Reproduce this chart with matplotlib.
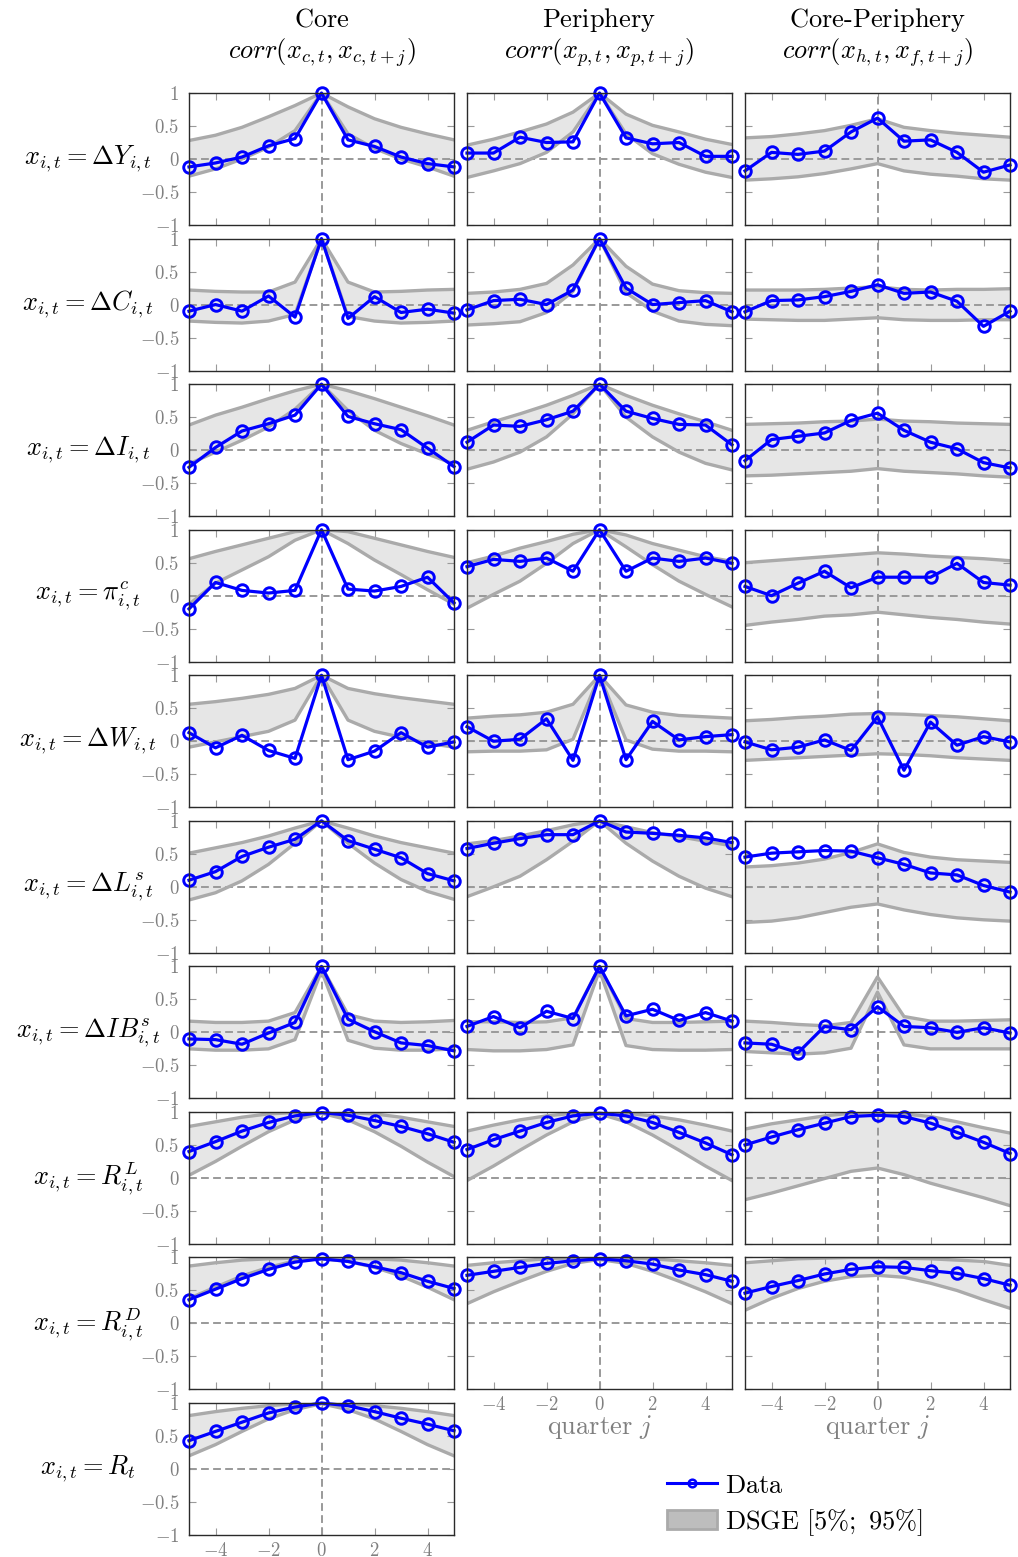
import matplotlib
matplotlib.use("Agg")
import matplotlib.pyplot as plt
from matplotlib.lines import Line2D
from matplotlib.patches import Patch

plt.rcParams['mathtext.fontset'] = 'cm'
plt.rcParams['font.family'] = ['cmr10', 'DejaVu Serif']
plt.rcParams['axes.formatter.use_mathtext'] = True

# ---------------- data ----------------
lags = [-5, -4, -3, -2, -1, 0, 1, 2, 3, 4, 5]
x_ticks = [-4, -2, 0, 2, 4]
x_tick_labels = [r'$-4$', r'$-2$', r'$0$', r'$2$', r'$4$']
y_ticks = [-1, -0.5, 0, 0.5, 1]
y_tick_labels = [r'$-1$', r'$-0.5$', r'$0$', r'$0.5$', r'$1$']

col_titles = [r'$\mathrm{Core}$', r'$\mathrm{Periphery}$', r'$\mathrm{Core\text{-}Periphery}$']
col_subtitles = [r'$corr(x_{c,t}, x_{c,t+j})$', r'$corr(x_{p,t}, x_{p,t+j})$',
                 r'$corr(x_{h,t}, x_{f,t+j})$']
row_labels = [r'$x_{i,t} = \Delta Y_{i,t}$', r'$x_{i,t} = \Delta C_{i,t}$',
              r'$x_{i,t} = \Delta I_{i,t}$', r'$x_{i,t} = \pi^c_{i,t}$',
              r'$x_{i,t} = \Delta W_{i,t}$', r'$x_{i,t} = \Delta L^s_{i,t}$',
              r'$x_{i,t} = \Delta IB^s_{i,t}$', r'$x_{i,t} = R^L_{i,t}$',
              r'$x_{i,t} = R^D_{i,t}$', r'$x_{i,t} = R_t$']

# Output growth
dY_c = [-0.12, -0.06, 0.03, 0.2, 0.31, 1.0, 0.29, 0.19, 0.03, -0.07, -0.12]
dY_c_lo = [-0.26, -0.15, 0.0, 0.18, 0.43, 1.0, 0.38, 0.16, 0.0, -0.12, -0.26]
dY_c_hi = [0.28, 0.36, 0.48, 0.64, 0.81, 1.0, 0.79, 0.61, 0.48, 0.38, 0.29]
dY_p = [0.09, 0.09, 0.33, 0.25, 0.26, 1.0, 0.32, 0.23, 0.25, 0.04, 0.04]
dY_p_lo = [-0.28, -0.18, -0.07, 0.1, 0.41, 1.0, 0.38, 0.08, -0.08, -0.2, -0.28]
dY_p_hi = [0.21, 0.3, 0.41, 0.53, 0.71, 1.0, 0.68, 0.51, 0.41, 0.3, 0.22]
dY_cp = [-0.18, 0.1, 0.07, 0.12, 0.41, 0.62, 0.27, 0.29, 0.1, -0.2, -0.09]
dY_cp_lo = [-0.32, -0.3, -0.27, -0.22, -0.15, -0.07, -0.18, -0.23, -0.26, -0.3, -0.32]
dY_cp_hi = [0.32, 0.34, 0.38, 0.43, 0.51, 0.61, 0.48, 0.43, 0.39, 0.36, 0.33]

# Consumption growth
dC_c = [-0.1, 0.0, -0.1, 0.13, -0.19, 1.0, -0.21, 0.12, -0.12, -0.07, -0.13]
dC_c_lo = [-0.25, -0.27, -0.28, -0.25, -0.15, 1.0, -0.18, -0.25, -0.28, -0.27, -0.25]
dC_c_hi = [0.22, 0.2, 0.19, 0.19, 0.34, 1.0, 0.34, 0.19, 0.2, 0.22, 0.23]
dC_p = [-0.08, 0.06, 0.08, 0.0, 0.22, 1.0, 0.25, 0.0, 0.03, 0.06, -0.11]
dC_p_lo = [-0.31, -0.29, -0.26, -0.12, 0.2, 1.0, 0.18, -0.1, -0.25, -0.3, -0.32]
dC_p_hi = [0.17, 0.19, 0.23, 0.32, 0.6, 1.0, 0.58, 0.31, 0.21, 0.18, 0.17]
dC_cp = [-0.11, 0.06, 0.07, 0.12, 0.2, 0.3, 0.17, 0.19, 0.05, -0.33, -0.1]
dC_cp_lo = [-0.22, -0.23, -0.24, -0.24, -0.22, -0.2, -0.23, -0.24, -0.24, -0.23, -0.23]
dC_cp_hi = [0.22, 0.22, 0.22, 0.23, 0.25, 0.27, 0.23, 0.22, 0.23, 0.23, 0.24]

# Investment growth
dI_c = [-0.26, 0.04, 0.29, 0.4, 0.53, 1.0, 0.51, 0.4, 0.31, 0.03, -0.25]
dI_c_lo = [-0.21, -0.03, 0.15, 0.35, 0.62, 1.0, 0.6, 0.3, 0.1, -0.06, -0.21]
dI_c_hi = [0.38, 0.53, 0.65, 0.78, 0.9, 1.0, 0.9, 0.78, 0.65, 0.52, 0.38]
dI_p = [0.12, 0.38, 0.36, 0.46, 0.59, 1.0, 0.59, 0.48, 0.39, 0.38, 0.08]
dI_p_lo = [-0.29, -0.18, -0.03, 0.2, 0.55, 1.0, 0.5, 0.2, -0.03, -0.2, -0.3]
dI_p_hi = [0.3, 0.43, 0.55, 0.68, 0.83, 1.0, 0.83, 0.68, 0.55, 0.43, 0.3]
dI_cp = [-0.16, 0.16, 0.21, 0.26, 0.45, 0.56, 0.3, 0.12, 0.02, -0.19, -0.27]
dI_cp_lo = [-0.39, -0.38, -0.36, -0.34, -0.32, -0.28, -0.32, -0.34, -0.36, -0.39, -0.41]
dI_cp_hi = [0.39, 0.4, 0.41, 0.43, 0.44, 0.47, 0.44, 0.43, 0.41, 0.4, 0.39]

# CPI inflation
pic_c = [-0.2, 0.2, 0.08, 0.04, 0.08, 1.0, 0.1, 0.07, 0.14, 0.28, -0.11]
pic_c_lo = [-0.13, 0.19, 0.39, 0.59, 0.84, 1.0, 0.79, 0.54, 0.32, 0.09, -0.13]
pic_c_hi = [0.56, 0.67, 0.77, 0.87, 0.97, 1.0, 0.97, 0.87, 0.77, 0.67, 0.58]
pic_p = [0.44, 0.55, 0.52, 0.57, 0.37, 1.0, 0.37, 0.57, 0.52, 0.57, 0.49]
pic_p_lo = [-0.19, 0.02, 0.22, 0.49, 0.79, 1.0, 0.74, 0.47, 0.22, 0.02, -0.17]
pic_p_hi = [0.5, 0.6, 0.72, 0.82, 0.93, 1.0, 0.92, 0.79, 0.69, 0.59, 0.52]
pic_cp = [0.14, 0.0, 0.19, 0.37, 0.12, 0.28, 0.28, 0.28, 0.49, 0.2, 0.16]
pic_cp_lo = [-0.45, -0.4, -0.36, -0.31, -0.29, -0.25, -0.29, -0.33, -0.36, -0.4, -0.43]
pic_cp_hi = [0.5, 0.53, 0.56, 0.59, 0.62, 0.65, 0.63, 0.6, 0.58, 0.56, 0.53]

# Wage growth
dW_c = [0.13, -0.1, 0.09, -0.14, -0.26, 1.0, -0.28, -0.15, 0.13, -0.09, -0.01]
dW_c_lo = [-0.09, -0.01, 0.07, 0.15, 0.32, 1.0, 0.32, 0.15, 0.06, -0.03, -0.09]
dW_c_hi = [0.56, 0.6, 0.65, 0.71, 0.8, 1.0, 0.8, 0.72, 0.66, 0.61, 0.56]
dW_p = [0.22, 0.0, 0.03, 0.34, -0.29, 1.0, -0.28, 0.3, 0.02, 0.07, 0.1]
dW_p_lo = [-0.16, -0.15, -0.15, -0.13, 0.03, 1.0, 0.02, -0.12, -0.15, -0.15, -0.16]
dW_p_hi = [0.35, 0.38, 0.4, 0.44, 0.56, 1.0, 0.55, 0.44, 0.39, 0.37, 0.35]
dW_cp = [-0.01, -0.13, -0.09, 0.02, -0.14, 0.37, -0.44, 0.29, -0.06, 0.07, -0.01]
dW_cp_lo = [-0.29, -0.27, -0.25, -0.23, -0.21, -0.19, -0.2, -0.22, -0.25, -0.27, -0.29]
dW_cp_hi = [0.31, 0.33, 0.36, 0.38, 0.41, 0.42, 0.41, 0.39, 0.37, 0.34, 0.31]

# Loan growth
dLs_c = [0.1, 0.23, 0.46, 0.6, 0.72, 1.0, 0.7, 0.57, 0.44, 0.2, 0.09]
dLs_c_lo = [-0.2, -0.09, 0.09, 0.34, 0.66, 1.0, 0.66, 0.36, 0.11, -0.07, -0.19]
dLs_c_hi = [0.51, 0.59, 0.67, 0.77, 0.89, 1.0, 0.89, 0.77, 0.67, 0.59, 0.51]
dLs_p = [0.58, 0.66, 0.73, 0.79, 0.79, 1.0, 0.83, 0.81, 0.78, 0.74, 0.67]
dLs_p_lo = [-0.15, 0.0, 0.16, 0.41, 0.69, 1.0, 0.66, 0.39, 0.16, -0.02, -0.15]
dLs_p_hi = [0.65, 0.7, 0.77, 0.85, 0.94, 1.0, 0.91, 0.82, 0.76, 0.69, 0.62]
dLs_cp = [0.45, 0.51, 0.53, 0.55, 0.54, 0.44, 0.34, 0.21, 0.18, 0.02, -0.08]
dLs_cp_lo = [-0.54, -0.52, -0.47, -0.39, -0.31, -0.26, -0.35, -0.42, -0.47, -0.5, -0.52]
dLs_cp_hi = [0.3, 0.32, 0.36, 0.42, 0.52, 0.65, 0.52, 0.45, 0.41, 0.39, 0.37]

# Interbank growth
dIBs_c = [-0.1, -0.11, -0.18, -0.01, 0.15, 1.0, 0.2, 0.01, -0.16, -0.2, -0.28]
dIBs_c_lo = [-0.25, -0.27, -0.27, -0.25, -0.11, 0.93, -0.12, -0.24, -0.27, -0.27, -0.25]
dIBs_c_hi = [0.17, 0.15, 0.15, 0.17, 0.3, 1.0, 0.27, 0.17, 0.15, 0.16, 0.18]
dIBs_p = [0.09, 0.24, 0.07, 0.32, 0.21, 1.0, 0.25, 0.35, 0.18, 0.3, 0.17]
dIBs_p_lo = [-0.26, -0.28, -0.28, -0.26, -0.19, 0.94, -0.2, -0.26, -0.27, -0.27, -0.26]
dIBs_p_hi = [0.16, 0.16, 0.15, 0.16, 0.22, 1.0, 0.21, 0.15, 0.15, 0.16, 0.17]
dIBs_cp = [-0.16, -0.18, -0.31, 0.09, 0.04, 0.39, 0.09, 0.07, 0.0, 0.07, -0.01]
dIBs_cp_lo = [-0.29, -0.31, -0.33, -0.31, -0.24, 0.61, -0.19, -0.25, -0.25, -0.25, -0.25]
dIBs_cp_hi = [0.17, 0.15, 0.12, 0.1, 0.15, 0.84, 0.24, 0.17, 0.17, 0.18, 0.19]

# Loan rate
RL_c = [0.4, 0.55, 0.71, 0.84, 0.94, 0.99, 0.95, 0.87, 0.78, 0.67, 0.54]
RL_c_lo = [0.04, 0.25, 0.48, 0.7, 0.88, 0.98, 0.88, 0.7, 0.48, 0.24, 0.02]
RL_c_hi = [0.78, 0.85, 0.92, 0.97, 0.99, 1.0, 0.99, 0.97, 0.92, 0.85, 0.78]
RL_p = [0.43, 0.58, 0.71, 0.84, 0.94, 0.98, 0.94, 0.84, 0.69, 0.53, 0.35]
RL_p_lo = [-0.04, 0.18, 0.42, 0.65, 0.85, 0.97, 0.85, 0.65, 0.42, 0.18, -0.04]
RL_p_hi = [0.71, 0.8, 0.88, 0.94, 0.98, 0.99, 0.98, 0.94, 0.88, 0.8, 0.71]
RL_cp = [0.5, 0.62, 0.73, 0.83, 0.93, 0.95, 0.93, 0.83, 0.69, 0.54, 0.37]
RL_cp_lo = [-0.33, -0.23, -0.12, -0.01, 0.1, 0.15, 0.05, -0.08, -0.19, -0.3, -0.42]
RL_cp_hi = [0.74, 0.82, 0.88, 0.94, 0.98, 0.99, 0.97, 0.93, 0.85, 0.76, 0.68]

# Deposit rate
RD_c = [0.36, 0.52, 0.68, 0.82, 0.93, 0.98, 0.94, 0.86, 0.77, 0.64, 0.53]
RD_c_lo = [0.38, 0.55, 0.72, 0.85, 0.95, 0.98, 0.94, 0.85, 0.72, 0.55, 0.36]
RD_c_hi = [0.87, 0.92, 0.96, 0.98, 0.99, 1.0, 0.99, 0.98, 0.96, 0.92, 0.87]
RD_p = [0.73, 0.79, 0.85, 0.91, 0.95, 0.98, 0.95, 0.9, 0.81, 0.74, 0.64]
RD_p_lo = [0.3, 0.48, 0.64, 0.79, 0.91, 0.97, 0.91, 0.79, 0.64, 0.48, 0.3]
RD_p_hi = [0.88, 0.92, 0.95, 0.98, 0.99, 1.0, 0.99, 0.98, 0.95, 0.92, 0.88]
RD_cp = [0.46, 0.56, 0.65, 0.75, 0.82, 0.86, 0.85, 0.8, 0.76, 0.68, 0.58]
RD_cp_lo = [0.2, 0.38, 0.53, 0.64, 0.71, 0.73, 0.7, 0.61, 0.5, 0.36, 0.23]
RD_cp_hi = [0.92, 0.95, 0.98, 0.99, 1.0, 1.0, 0.99, 0.98, 0.96, 0.94, 0.88]

# Policy rate
R_c = [0.43, 0.57, 0.71, 0.85, 0.94, 1.0, 0.96, 0.87, 0.77, 0.68, 0.58]
R_c_lo = [0.2, 0.37, 0.57, 0.76, 0.9, 0.99, 0.9, 0.76, 0.57, 0.37, 0.2]
R_c_hi = [0.81, 0.87, 0.92, 0.96, 0.99, 1.0, 0.99, 0.96, 0.92, 0.87, 0.81]

panels = [
    [(dY_c, dY_c_lo, dY_c_hi), (dY_p, dY_p_lo, dY_p_hi), (dY_cp, dY_cp_lo, dY_cp_hi)],
    [(dC_c, dC_c_lo, dC_c_hi), (dC_p, dC_p_lo, dC_p_hi), (dC_cp, dC_cp_lo, dC_cp_hi)],
    [(dI_c, dI_c_lo, dI_c_hi), (dI_p, dI_p_lo, dI_p_hi), (dI_cp, dI_cp_lo, dI_cp_hi)],
    [(pic_c, pic_c_lo, pic_c_hi), (pic_p, pic_p_lo, pic_p_hi), (pic_cp, pic_cp_lo, pic_cp_hi)],
    [(dW_c, dW_c_lo, dW_c_hi), (dW_p, dW_p_lo, dW_p_hi), (dW_cp, dW_cp_lo, dW_cp_hi)],
    [(dLs_c, dLs_c_lo, dLs_c_hi), (dLs_p, dLs_p_lo, dLs_p_hi), (dLs_cp, dLs_cp_lo, dLs_cp_hi)],
    [(dIBs_c, dIBs_c_lo, dIBs_c_hi), (dIBs_p, dIBs_p_lo, dIBs_p_hi), (dIBs_cp, dIBs_cp_lo, dIBs_cp_hi)],
    [(RL_c, RL_c_lo, RL_c_hi), (RL_p, RL_p_lo, RL_p_hi), (RL_cp, RL_cp_lo, RL_cp_hi)],
    [(RD_c, RD_c_lo, RD_c_hi), (RD_p, RD_p_lo, RD_p_hi), (RD_cp, RD_cp_lo, RD_cp_hi)],
    [(R_c, R_c_lo, R_c_hi)],
]

# ---------------- layout / style ----------------
W, H = 1018, 1557
fig = plt.figure(figsize=(W / 100, H / 100), dpi=100)

col_left = [189, 467, 745]
ax_w, ax_h = 265, 132
row_top0, pitch = 93, 145.56

BLUE = '#0000ff'
BAND_FILL = '#e6e6e6'
BAND_EDGE = '#aaaaaa'
GRID = '#999999'
LABEL_GRAY = '#808080'
BIG = 19

for r, row in enumerate(panels):
    top = row_top0 + r * pitch
    for c, (dat, lo, hi) in enumerate(row):
        ax = fig.add_axes([col_left[c] / W, 1 - (top + ax_h) / H, ax_w / W, ax_h / H])
        ax.fill_between(lags, lo, hi, color=BAND_FILL, lw=0, zorder=1)
        ax.axhline(0, color=GRID, lw=1.4, dashes=(4, 2.2), zorder=2)
        ax.axvline(0, color=GRID, lw=1.4, dashes=(4, 2.2), zorder=2)
        ax.plot(lags, lo, color=BAND_EDGE, lw=2.4, zorder=2.5)
        ax.plot(lags, hi, color=BAND_EDGE, lw=2.4, zorder=2.5)
        ax.plot(lags, dat, color=BLUE, lw=2.3, marker='o', ms=8.3, mfc='none',
                mec=BLUE, mew=2.1, zorder=4, clip_on=False)
        ax.set_xlim(-5, 5)
        ax.set_ylim(-1, 1)
        ax.set_xticks(x_ticks)
        ax.set_yticks(y_ticks)
        bottom = (r == len(panels) - 1) or (r == len(panels) - 2 and c > 0)
        ax.set_xticklabels(x_tick_labels if bottom else [])
        ax.set_yticklabels(y_tick_labels if c == 0 else [])
        ax.tick_params(direction='in', top=True, right=True, length=5, width=0.8,
                       color='#9a9a9a', labelcolor=LABEL_GRAY, labelsize=13.5)
        ax.tick_params(axis='y', pad=7)
        ax.tick_params(axis='x', pad=5)
        for s in ax.spines.values():
            s.set_color('#2a2a2a')
            s.set_linewidth(1.0)
            s.set_zorder(5)
        if c == 0:
            fig.text(88 / W, 1 - (top + ax_h / 2) / H, row_labels[r], ha='center',
                     va='center', fontsize=BIG)
        if r == 0:
            cx = (col_left[c] + ax_w / 2) / W
            fig.text(cx, 1 - 20 / H, col_titles[c], ha='center', va='center', fontsize=BIG)
            fig.text(cx, 1 - 53 / H, col_subtitles[c], ha='center', va='center', fontsize=BIG)
        if bottom and c > 0:
            cx = (col_left[c] + ax_w / 2) / W
            fig.text(cx, 1 - 1427 / H, r'$\mathrm{quarter}\ j$', ha='center', va='center',
                     fontsize=BIG, color=LABEL_GRAY)

handles = [
    Line2D([0], [0], color=BLUE, lw=2.2, marker='o', ms=5.5, mfc='none', mec=BLUE, mew=1.8),
    Patch(facecolor='#bdbdbd', edgecolor=BAND_EDGE, linewidth=2.0),
]
labels = [r'$\mathrm{Data}$', r'$\mathrm{DSGE\ [5\%;\ 95\%]}$']
fig.legend(handles, labels, loc='upper left', bbox_to_anchor=(667 / W, 1 - 1474 / H),
           frameon=False, fontsize=BIG, handlelength=1.9, handleheight=0.75,
           handletextpad=0.3, labelspacing=0.35, borderaxespad=0, borderpad=0)

fig.savefig('out.png', dpi=100)
